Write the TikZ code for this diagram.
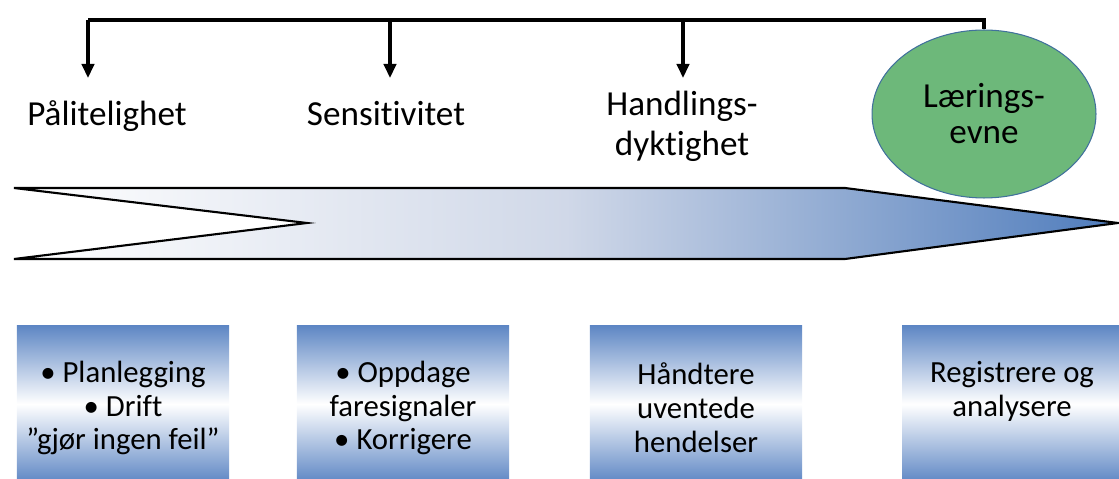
\documentclass[tikz,border=0pt]{standalone}
\usepackage{fontspec}
\setmainfont{Carlito}[RawFeature=-liga]
\usetikzlibrary{shapes.geometric,arrows.meta,positioning}
\definecolor{boxblue}{RGB}{93,134,196}
\definecolor{arrowblue}{RGB}{79,124,188}
\definecolor{arrowmid}{RGB}{208,216,232}
\definecolor{learngreen}{RGB}{109,184,122}
\definecolor{learnedge}{RGB}{65,113,156}
\tikzset{stage/.style={font=\fontsize{20}{22.7}\selectfont, align=center, inner sep=0pt},
         panel/.style={anchor=north, minimum width=4.25cm, minimum height=3.15cm, inner sep=0pt,
                       top color=boxblue, bottom color=boxblue, middle color=white},
         panel text/.style={font=\fontsize{17.5}{19.3}\selectfont, align=center, inner sep=0pt},
         bracket/.style={line width=2.6pt},
         drop/.style={line width=1.9pt, -{Triangle[length=8pt,width=7pt]}}}

\begin{document}
\begin{tikzpicture}[x=0.02cm,y=-0.02cm]
                             \useasboundingbox (0,0) rectangle (1119,479);
                             \clip (0,0) rectangle (1119,479);
                             % the big arrow, white to blue
                             \draw[line width=1.2pt, left color=white, right color=arrowblue, middle color=arrowmid]
                                  (14,188) -- (845,188) -- (1118,223) -- (845,259) -- (14,259) -- (307,223) -- cycle;
                             % stages
                             \node[stage, anchor=base] (pal) at (107,126) {Pålitelighet};
                             \node[stage, anchor=base] (sens) at (386,126) {Sensitivitet};
                             \node[stage] (hand) at (682,126) {Handlings-\\dyktighet};
                             \node[ellipse, draw=learnedge, fill=learngreen, line width=0.6pt,
                                   minimum width=4.48cm, minimum height=3.36cm, stage,
                                   font=\fontsize{20}{20.5}\selectfont] (laer) at (984,114) {Lærings-\\evne};
                             % bracket over the stages
                             \coordinate (top1) at (88,20);
                             \coordinate (top2) at (390,20);
                             \coordinate (top3) at (683,20);
                             \coordinate (tip1) at (88,78);
                             \coordinate (tip2) at (390,78);
                             \coordinate (tip3) at (683,78);
                             \draw[bracket] (top1) -| (laer.north);
                             \draw[drop] (top1) -- (tip1);
                             \draw[drop] (top2) -- (tip2);
                             \draw[drop] (top3) -- (tip3);
                             % boxes under the arrow
                             \node[panel] (b1) at (123,325) {};
                             \node[panel] (b2) at (403,325) {};
                             \node[panel] (b3) at (696,325) {};
                             \node[panel, minimum width=4.4cm] (b4) at (1012,325) {};
                             \node[panel text] (t1) at (b1.center |- 0,408) {• Planlegging\\• Drift\\”gjør ingen feil”};
                             \node[panel text] (t2) at (b2.center |- 0,408) {• Oppdage\\faresignaler\\• Korrigere};
                             \node[panel text] (t3) at (b3.center |- 0,408) {Håndtere\\uventede\\hendelser};
                             \node[panel text] (t4) at (b4.center |- 0,391) {Registrere og\\analysere};
                         \end{tikzpicture}
\end{document}
